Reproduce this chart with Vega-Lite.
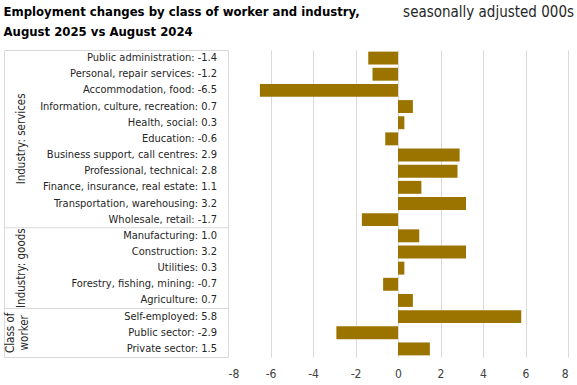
{
  "$schema": "https://vega.github.io/schema/vega-lite/v6.json",
  "padding": {"left": 3, "top": 5, "right": 4, "bottom": 4},
  "background": "white",
  "bounds": "flush",
  "spacing": 0,
  "config": {
    "font": "DejaVu Sans Condensed, serif",
    "view": {"stroke": null},
    "text": {"color": "#262626"}
  },
  "datasets": {
    "rows": [
      {"cat": "Public administration", "value": -1.4, "label": "Public administration: -1.4"},
      {"cat": "Personal, repair services", "value": -1.2, "label": "Personal, repair services: -1.2"},
      {"cat": "Accommodation, food", "value": -6.5, "label": "Accommodation, food: -6.5"},
      {"cat": "Information, culture, recreation", "value": 0.7, "label": "Information, culture, recreation: 0.7"},
      {"cat": "Health, social", "value": 0.3, "label": "Health, social: 0.3"},
      {"cat": "Education", "value": -0.6, "label": "Education: -0.6"},
      {"cat": "Business support, call centres", "value": 2.9, "label": "Business support, call centres: 2.9"},
      {"cat": "Professional, technical", "value": 2.8, "label": "Professional, technical: 2.8"},
      {"cat": "Finance, insurance, real estate", "value": 1.1, "label": "Finance, insurance, real estate: 1.1"},
      {"cat": "Transportation, warehousing", "value": 3.2, "label": "Transportation, warehousing: 3.2"},
      {"cat": "Wholesale, retail", "value": -1.7, "label": "Wholesale, retail: -1.7"},
      {"cat": "Manufacturing", "value": 1.0, "label": "Manufacturing: 1.0"},
      {"cat": "Construction", "value": 3.2, "label": "Construction: 3.2"},
      {"cat": "Utilities", "value": 0.3, "label": "Utilities: 0.3"},
      {"cat": "Forestry, fishing, mining", "value": -0.7, "label": "Forestry, fishing, mining: -0.7"},
      {"cat": "Agriculture", "value": 0.7, "label": "Agriculture: 0.7"},
      {"cat": "Self-employed", "value": 5.8, "label": "Self-employed: 5.8"},
      {"cat": "Public sector", "value": -2.9, "label": "Public sector: -2.9"},
      {"cat": "Private sector", "value": 1.5, "label": "Private sector: 1.5"}
    ],
    "groups1": [
      {"mid": "Education", "group": "Industry: services"},
      {"mid": "Utilities", "group": "Industry: goods"}
    ],
    "groups2": [
      {"mid": "Public sector", "group": ["Class of", "worker"]}
    ],
    "seps": [
      {"cat": "Manufacturing"},
      {"cat": "Self-employed"}
    ]
  },
  "hconcat": [
    {
      "width": 224,
      "height": 307,
      "view": {"stroke": "#d9d9d9"},
      "title": {
        "text": ["Employment changes by class of worker and industry,", "August 2025 vs August 2024"],
        "anchor": "start",
        "fontSize": 13,
        "fontWeight": "bold",
        "color": "#000000",
        "lineHeight": 20,
        "offset": 11
      },
      "layer": [
        {
          "data": {"name": "rows"},
          "mark": {"type": "text", "align": "right", "baseline": "middle", "fontSize": 11},
          "encoding": {
            "y": {
              "field": "cat", "type": "nominal", "axis": null,
              "scale": {
                "domain": ["Public administration", "Personal, repair services", "Accommodation, food", "Information, culture, recreation", "Health, social", "Education", "Business support, call centres", "Professional, technical", "Finance, insurance, real estate", "Transportation, warehousing", "Wholesale, retail", "Manufacturing", "Construction", "Utilities", "Forestry, fishing, mining", "Agriculture", "Self-employed", "Public sector", "Private sector"],
                "paddingInner": 0, "paddingOuter": 0
              }
            },
            "x": {"datum": 0.951, "type": "quantitative", "scale": {"domain": [0, 1], "nice": false}, "axis": null},
            "text": {"field": "label"}
          }
        },
        {
          "data": {"name": "groups1"},
          "mark": {"type": "text", "angle": 270, "align": "center", "baseline": "middle", "fontSize": 11.5},
          "encoding": {
            "y": {"field": "mid", "type": "nominal"},
            "x": {"datum": 0.08, "type": "quantitative"},
            "text": {"field": "group"}
          }
        },
        {
          "data": {"name": "groups2"},
          "mark": {"type": "text", "angle": 270, "align": "center", "baseline": "middle", "fontSize": 11.5, "lineHeight": 14},
          "encoding": {
            "y": {"field": "mid", "type": "nominal"},
            "x": {"datum": 0.033, "type": "quantitative"},
            "text": {"field": "group"}
          }
        },
        {
          "data": {"name": "seps"},
          "mark": {"type": "rule", "color": "#d9d9d9", "strokeWidth": 1},
          "encoding": {
            "y": {"field": "cat", "type": "nominal", "bandPosition": 0},
            "x": {"datum": 0, "type": "quantitative"},
            "x2": {"datum": 1}
          }
        }
      ]
    },
    {
      "width": 340,
      "height": 307,
      "title": {
        "text": "seasonally adjusted 000s",
        "anchor": "end",
        "fontSize": 15,
        "fontWeight": "normal",
        "color": "#262626",
        "offset": 30,
        "dx": 6
      },
      "data": {"name": "rows"},
      "mark": {"type": "bar", "color": "#9B7400", "height": {"band": 0.8}},
      "encoding": {
        "y": {
          "field": "cat", "type": "nominal", "axis": null,
          "scale": {
            "domain": ["Public administration", "Personal, repair services", "Accommodation, food", "Information, culture, recreation", "Health, social", "Education", "Business support, call centres", "Professional, technical", "Finance, insurance, real estate", "Transportation, warehousing", "Wholesale, retail", "Manufacturing", "Construction", "Utilities", "Forestry, fishing, mining", "Agriculture", "Self-employed", "Public sector", "Private sector"],
            "paddingInner": 0, "paddingOuter": 0
          }
        },
        "x": {
          "field": "value", "type": "quantitative",
          "scale": {"domain": [-8, 8], "nice": false},
          "axis": {
            "values": [-8, -6, -4, -2, 0, 2, 4, 6, 8],
            "labelExpr": "'' + datum.value",
            "title": null, "domain": false, "ticks": false,
            "grid": true, "gridColor": "#d9d9d9",
            "labelFontSize": 12, "labelColor": "#404040", "labelPadding": 11
          }
        }
      }
    }
  ]
}
